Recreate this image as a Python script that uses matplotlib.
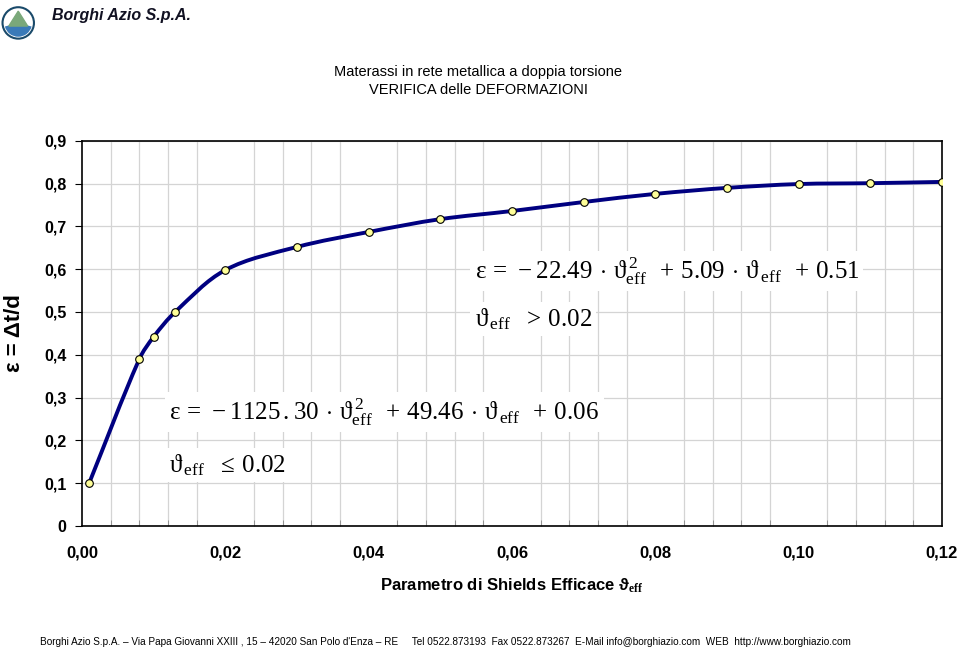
import numpy as np
import matplotlib.pyplot as plt
from matplotlib.path import Path
from matplotlib.patches import PathPatch, Circle, Wedge
from matplotlib.ticker import MultipleLocator, FuncFormatter

plt.rcParams['font.family'] = ['Liberation Sans', 'DejaVu Sans']
plt.rcParams['mathtext.fontset'] = 'custom'
plt.rcParams['mathtext.rm'] = 'Liberation Serif'
plt.rcParams['mathtext.it'] = 'Liberation Serif'
plt.rcParams['mathtext.bf'] = 'Liberation Serif:bold'

# Data
theta = [0.001, 0.008, 0.010, 0.013, 0.020, 0.030, 0.040, 0.050,
         0.060, 0.070, 0.080, 0.090, 0.100, 0.110, 0.120]
eps = [0.100, 0.390, 0.442, 0.500, 0.598, 0.652, 0.687, 0.717,
       0.736, 0.757, 0.776, 0.790, 0.799, 0.801, 0.804]

x_ticks = [0.00, 0.02, 0.04, 0.06, 0.08, 0.10, 0.12]
y_ticks = [0, 0.1, 0.2, 0.3, 0.4, 0.5, 0.6, 0.7, 0.8, 0.9]

title = "Materassi in rete metallica a doppia torsione\nVERIFICA delle DEFORMAZIONI"
footer = ("Borghi Azio S.p.A. \u2013 Via Papa Giovanni XXIII , 15 \u2013 42020 San Polo d'Enza \u2013 RE"
          "     Tel 0522.873193  Fax 0522.873267  E-Mail info@borghiazio.com  WEB  http://www.borghiazio.com")

fig = plt.figure(figsize=(9.6, 6.55), dpi=100)
ax = fig.add_axes([0.0854, 0.197, 0.8958, 0.588])

# smooth line like the spreadsheet's: cubic Bezier, tangents from neighbours,
# handles scaled to each segment's length (in screen proportions)
def smooth_path(xs, ys, sx=860 / 0.12, sy=385 / 0.9):
    p = np.column_stack([np.asarray(xs) * sx, np.asarray(ys) * sy])
    n = len(p)
    tang = []
    for i in range(n):
        d = p[min(i + 1, n - 1)] - p[max(i - 1, 0)]
        tang.append(d / np.linalg.norm(d))
    verts = [p[0]]
    codes = [Path.MOVETO]
    for i in range(n - 1):
        L = np.linalg.norm(p[i + 1] - p[i]) / 3.0
        verts += [p[i] + tang[i] * L, p[i + 1] - tang[i + 1] * L, p[i + 1]]
        codes += [Path.CURVE4] * 3
    v = np.array(verts) / np.array([sx, sy])
    return Path(v, codes)

ax.add_patch(PathPatch(smooth_path(theta, eps), fill=False, edgecolor='#000080',
                       lw=2.8, capstyle='round', joinstyle='round', zorder=3))
ax.plot(theta, eps, 'o', ms=5.5, mfc='#FFFF99', mec='black', mew=0.8, zorder=4)

ax.set_xlim(0, 0.12)
ax.set_ylim(0, 0.9)
ax.set_xticks(x_ticks)
ax.set_yticks(y_ticks)
ax.xaxis.set_minor_locator(MultipleLocator(0.004))
ax.grid(True, which='major', axis='y', color='#d4d4d4', lw=0.9)
ax.grid(True, which='minor', axis='x', color='#d4d4d4', lw=0.9)
ax.set_axisbelow(True)

ax.xaxis.set_major_formatter(FuncFormatter(lambda v, p: f"{v:.2f}".replace('.', ',')))
ax.yaxis.set_major_formatter(FuncFormatter(lambda v, p: "0" if abs(v) < 1e-9 else f"{v:.1f}".replace('.', ',')))
ax.tick_params(axis='x', which='major', length=0, pad=14, labelsize=12)
ax.tick_params(axis='x', which='minor', direction='in', length=4, width=0.6, color='#888888')
ax.tick_params(axis='y', which='major', direction='out', length=5, width=0.8, pad=6, labelsize=11.5)
for lab in ax.get_xticklabels() + ax.get_yticklabels():
    lab.set_fontweight('bold')
for s in ax.spines.values():
    s.set_linewidth(1.2)
    s.set_color('black')

ax.set_xlabel(r"Parametro di Shields Efficace ϑ$_{\mathbf{eff}}$", fontsize=12,
              fontweight='bold', labelpad=12)
ax.set_ylabel("ε = Δt/d", fontsize=16, fontweight='bold', labelpad=14)

# equations
box = dict(facecolor='white', edgecolor='none', pad=3)
fs = 18
ax.text(0.0548, 0.596, r"$\mathrm{\varepsilon\,=\,-22.49\,\cdot\,\vartheta^{\,2}_{eff}\ \,+\,5.09\,\cdot\,\vartheta_{\,eff}\ \,+\,0.51}$",
        fontsize=fs, ha='left', va='center', bbox=box, zorder=5)
ax.text(0.0548, 0.483, r"$\mathrm{\vartheta_{\,eff}\ \ >\,0.02}$",
        fontsize=fs, ha='left', va='center', bbox=box, zorder=5)
ax.text(0.0122, 0.266, r"$\mathrm{\varepsilon\,=\,-1125\,.30\,\cdot\,\vartheta^{\,2}_{eff}\ \,+\,49.46\,\cdot\,\vartheta_{\,eff}\ \,+\,0.06}$",
        fontsize=fs, ha='left', va='center', bbox=box, zorder=5)
ax.text(0.0122, 0.142, r"$\mathrm{\vartheta_{\,eff}\ \ \leq\,0.02}$",
        fontsize=fs, ha='left', va='center', bbox=box, zorder=5)

fig.text(0.498, 0.876, title, ha='center', va='center', fontsize=10.5, linespacing=1.35)

# logo
lax = fig.add_axes([0.001, 0.935, 0.036, 0.06])
lax.set_xlim(-1.1, 1.1)
lax.set_ylim(-1.1, 1.1)
lax.set_aspect('equal')
lax.axis('off')
lax.add_patch(Circle((0, 0), 1.0, facecolor='white', edgecolor='#1a4a6a', lw=1.5))
lax.add_patch(Wedge((0, 0), 0.88, 195, 345, facecolor='#3a7ab8', edgecolor='none'))
lax.fill([-0.6, 0, 0.6], [-0.2, 0.75, -0.2], color='#7aa87a')
fig.text(0.054, 0.976, "Borghi Azio S.p.A.", fontsize=11.5, fontweight='bold',
         style='italic', color='#111122', ha='left', va='center')

fig.text(0.042, 0.012, footer, fontsize=7.2, ha='left', va='bottom')

fig.savefig("out.png", dpi=100)
